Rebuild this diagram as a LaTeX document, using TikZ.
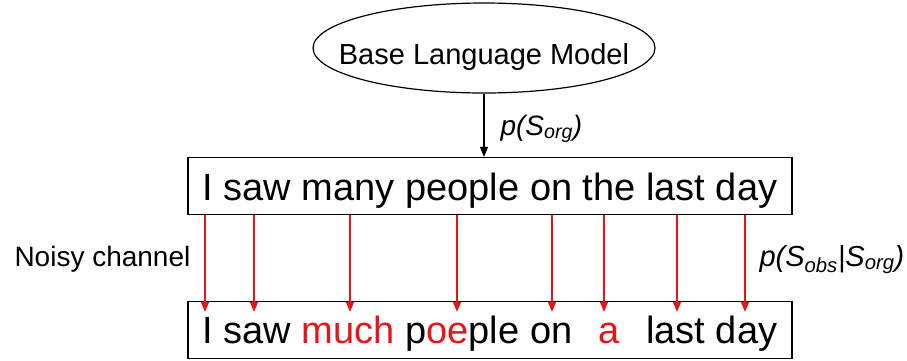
\documentclass[tikz,border=0pt]{standalone}
\usepackage{fontspec}
\setmainfont{Liberation Sans}
\usetikzlibrary{arrows.meta, positioning, calc, shapes.geometric}
\definecolor{ncred}{HTML}{E8141C}
\newcommand{\fsz}[1]{\fontsize{#1}{#1}\selectfont}

\begin{document}
\begin{tikzpicture}[x=1pt, y=-1pt,
    sentence/.style={draw, line width=1.2pt, minimum width=604pt, minimum height=57pt, inner sep=0pt, font=\fsz{38}},
    lmtip/.style={-{Triangle[width=8pt,length=10pt]}, line width=1.1pt},
    noisy/.style={lmtip, ncred, line width=1.4pt}]
  \useasboundingbox (0,0) rectangle (907,360);
  % language model
  \node[ellipse, draw, line width=1.2pt, minimum width=342pt, minimum height=90pt,
        label={[font=\fsz{29}, yshift=-9pt]center:Base Language Model}] (lm) at (484,48) {};
  % original and observed sentences
  \node[sentence, text height=28pt, text depth=0pt] (org) at (490,186) {I saw many people on the last day};
  \node[sentence, text height=26pt, text depth=0pt] (obs) at (490,330)
    {I saw \textcolor{ncred}{much} p\textcolor{ncred}{oe}ple on \makebox[1.39em]{\textcolor{ncred}{a}} last day};
  % prior
  \draw[lmtip] (lm.south) -- (lm.south |- org.north);
  \node[font=\fsz{28}, anchor=base west] (porg) at (497,135) {\textit{p(S\textsubscript{org})}};
  % noisy channel
  \foreach \x in {205,254,350,457,552,604,677,745}
    \draw[noisy] (org.south -| \x,0) -- ($(obs.north -| \x,0)+(0,11)$);
  \node[font=\fsz{28}, anchor=base west] (nc) at (11,266) {Noisy channel};
  \node[font=\fsz{29}, anchor=base west] (pobs) at (756,266) {\textit{p(S\textsubscript{obs}|S\textsubscript{org})}};
\end{tikzpicture}
\end{document}
